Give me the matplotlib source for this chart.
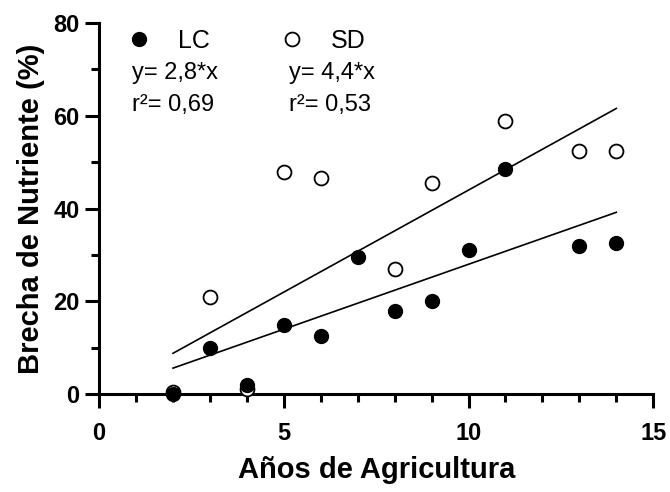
import numpy as np
import matplotlib
matplotlib.use("Agg")
import matplotlib.pyplot as plt
from matplotlib.lines import Line2D

plt.rcParams['font.family'] = ['Liberation Sans', 'DejaVu Sans']

# Datos
x_lc = [2, 3, 4, 5, 6, 7, 8, 9, 10, 11, 13, 14]
y_lc = [0, 10, 2, 15, 12.5, 29.5, 18, 20, 31, 48.5, 32, 32.5]
x_sd = [2, 3, 4, 5, 6, 8, 9, 11, 13, 14]
y_sd = [0.5, 21, 1, 48, 46.5, 27, 45.5, 59, 52.5, 52.5]

slope_lc = 2.8
slope_sd = 4.4
fit_range = [2, 14]

fig = plt.figure(figsize=(6.7, 4.92), dpi=100)
ax = fig.add_axes([0.148, 0.199, 0.827, 0.754])

xf = np.array(fit_range)
ax.plot(xf, slope_sd * xf, color='black', lw=1.2, zorder=2)
ax.plot(xf, slope_lc * xf, color='black', lw=1.2, zorder=2)

ax.plot(x_sd, y_sd, 'o', ms=10, mfc='white', mec='black', mew=1.3,
        zorder=3, clip_on=False)
ax.plot(x_lc, y_lc, 'o', ms=10, mfc='black', mec='black',
        zorder=4, clip_on=False)

ax.set_xlim(0, 15)
ax.set_ylim(0, 80)
ax.set_xticks([0, 5, 10, 15])
ax.set_xticks(np.arange(0, 16, 1), minor=True)
ax.set_yticks([0, 20, 40, 60, 80])
ax.set_yticks(np.arange(0, 81, 10), minor=True)

for s in ['top', 'right']:
    ax.spines[s].set_visible(False)
for s in ['left', 'bottom']:
    ax.spines[s].set_linewidth(2.2)

ax.tick_params(which='major', direction='out', length=10, width=2.2,
               labelsize=17)
ax.tick_params(which='minor', direction='out', length=6, width=2.2)
ax.tick_params(axis='x', which='major', pad=10)
ax.tick_params(axis='y', which='major', pad=4)
for lab in ax.get_xticklabels() + ax.get_yticklabels():
    lab.set_fontweight('bold')

ax.set_xlabel('Años de Agricultura', fontsize=21, fontweight='bold', labelpad=8)
ax.set_ylabel('Brecha de Nutriente (%)', fontsize=21, fontweight='bold', labelpad=6)

handles = [
    Line2D([], [], ls='none', marker='o', ms=10, mfc='black', mec='black'),
    Line2D([], [], ls='none', marker='o', ms=10, mfc='white', mec='black', mew=1.3),
]
ax.legend(handles, ['LC', 'SD'], ncol=2, loc='upper left', frameon=False,
          fontsize=18, bbox_to_anchor=(0.02, 1.012), handletextpad=0.8,
          columnspacing=2.55, handlelength=1.5, borderaxespad=0)

ax.text(0.06, 0.865, 'y= 2,8*x', transform=ax.transAxes, fontsize=17, va='center')
ax.text(0.06, 0.78, 'r²= 0,69', transform=ax.transAxes, fontsize=17, va='center')
ax.text(0.342, 0.865, 'y= 4,4*x', transform=ax.transAxes, fontsize=17, va='center')
ax.text(0.342, 0.78, 'r²= 0,53', transform=ax.transAxes, fontsize=17, va='center')

fig.savefig('out.png', dpi=100)
